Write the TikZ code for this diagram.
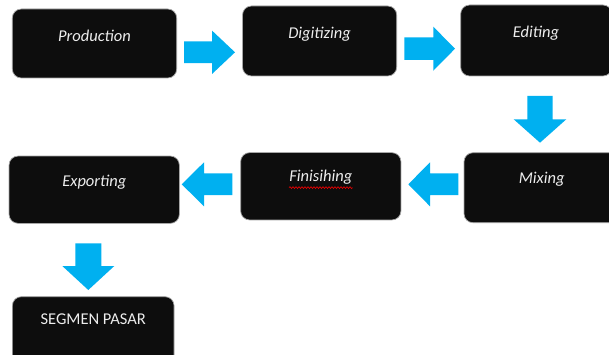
\documentclass[tikz,border=0pt]{standalone}
\usepackage{fontspec}
\setmainfont{Carlito}
\usetikzlibrary{decorations.pathmorphing}
\definecolor{boxfill}{HTML}{0D0D0D}
\definecolor{arrowblue}{HTML}{00B0F0}
\definecolor{txtcol}{HTML}{EDEDED}
\definecolor{boxline}{HTML}{A6A6A6}
% x, y, angle, length, head base, shaft half width, head half width
\newcommand{\BlockArrow}[7]{%
  \fill[arrowfill, shift={(#1,#2)}, rotate=#3]
    (0,-#6) -- (#5,-#6) -- (#5,-#7) -- (#4,0) -- (#5,#7) -- (#5,#6) -- (0,#6) -- cycle;}
\tikzset{
  box/.style={draw=boxline, line width=0.7pt, fill=boxfill, rounded corners=9pt, inner sep=0pt},
  lbl/.style={text=txtcol, font=\fontsize{16.5}{19}\selectfont\itshape, inner sep=0pt},
  lblup/.style={text=txtcol, font=\fontsize{16.5}{19}\selectfont, inner sep=0pt},
  arrowfill/.style={fill=arrowblue},
  spell/.style={draw=red!85!black, line width=0.7pt, decorate, decoration={snake, segment length=3pt, amplitude=0.9pt}}
}
\begin{document}
\begin{tikzpicture}[x=1pt,y=-1pt]
\useasboundingbox (0,0) rectangle (609,355);
\fill[white] (0,0) rectangle (609,355);
% boxes
\node[box, minimum width=164.4pt, minimum height=69pt] (prod) at (94.5,43.5) {};
\node[box, minimum width=154.2pt, minimum height=70pt] (digi) at (319.6,41) {};
\node[box, minimum width=151.3pt, minimum height=71pt] (edit) at (536.3,40.5) {};
\node[box, minimum width=155pt, minimum height=70pt] (mix) at (541.5,187.7) {};
\node[box, minimum width=160.3pt, minimum height=67.3pt] (fini) at (320.8,186.3) {};
\node[box, minimum width=170.3pt, minimum height=67.3pt] (expo) at (94.2,189.7) {};
\node[box, minimum width=161.7pt, minimum height=70pt] (segm) at (93.2,331.7) {};
% texts
\node[lbl] (prodtxt) at (94.5,36) {Production};
\node[lbl] (digitxt) at (319.6,34) {Digitizing};
\node[lbl] (edittxt) at (536,33) {Editing};
\node[lbl] (mixtxt) at (541.7,179) {Mixing};
\node[lbl] (finitxt) at (320.8,177.3) {Finisihing};
\node[lbl] (expotxt) at (94.3,182.3) {Exporting};
\node[lblup] (segmtxt) at (93.2,319.3) {SEGMEN PASAR};
\draw[spell] ([yshift=-3pt]finitxt.south west) -- ([yshift=-3pt]finitxt.south east);
% block arrows
\BlockArrow{184}{52.3}{0}{51}{28}{10.8}{21.7}
\BlockArrow{404.3}{48.7}{0}{50.7}{29}{11.3}{22}
\BlockArrow{540}{96}{-90}{46.7}{23.3}{12.7}{26.3}
\BlockArrow{458.3}{184.3}{180}{50}{28.3}{10.8}{22}
\BlockArrow{232.3}{184.3}{180}{50.6}{28.3}{10.8}{22}
\BlockArrow{88.3}{243.3}{-90}{46.7}{22.7}{13}{26}
\end{tikzpicture}
\end{document}
